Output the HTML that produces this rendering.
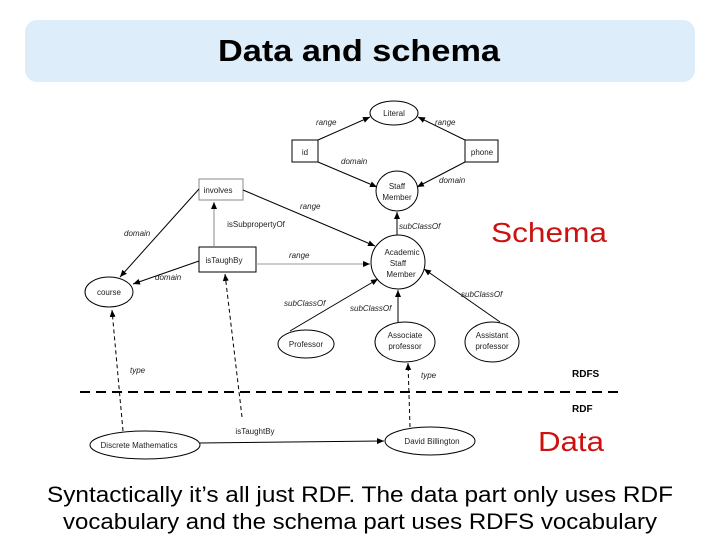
<!DOCTYPE html>
<html><head><meta charset="utf-8"><style>
body{margin:0;width:720px;height:540px;background:#fff;overflow:hidden;font-family:"Liberation Sans",sans-serif}
</style></head><body>
<svg width="720" height="540" viewBox="0 0 720 540" xmlns="http://www.w3.org/2000/svg" font-family="Liberation Sans, sans-serif">
<defs>
<marker id="a" markerWidth="8" markerHeight="8" refX="7" refY="4" orient="auto" markerUnits="userSpaceOnUse"><path d="M0,1 L7,4 L0,7z" fill="#000"/></marker>
</defs>
<rect x="25" y="20" width="670" height="62" rx="12" fill="#ddeefa"/>
<text x="218" y="61" font-size="31" font-weight="bold" textLength="282" lengthAdjust="spacingAndGlyphs">Data and schema</text>
<g stroke="#000" stroke-width="1" fill="none">
<ellipse cx="394" cy="113" rx="24" ry="12"/>
<rect x="292" y="140" width="26" height="22"/>
<rect x="465" y="140" width="33" height="22"/>
<ellipse cx="397" cy="191" rx="21" ry="20"/>
<rect x="199" y="179" width="44" height="21" stroke="#888"/>
<rect x="199" y="247" width="57" height="25"/>
<ellipse cx="398" cy="262" rx="27" ry="27"/>
<ellipse cx="109" cy="292" rx="24" ry="15"/>
<ellipse cx="306" cy="344" rx="28" ry="14"/>
<ellipse cx="405" cy="342" rx="30" ry="20"/>
<ellipse cx="492" cy="342" rx="27" ry="20"/>
<ellipse cx="145" cy="445" rx="55" ry="14"/>
<ellipse cx="430" cy="441" rx="45" ry="14"/>
<line x1="318" y1="140" x2="370" y2="117" marker-end="url(#a)"/>
<line x1="465" y1="140" x2="418" y2="117" marker-end="url(#a)"/>
<line x1="318" y1="162" x2="377" y2="187" marker-end="url(#a)"/>
<line x1="465" y1="162" x2="417" y2="187" marker-end="url(#a)"/>
<line x1="397" y1="235" x2="397" y2="212" marker-end="url(#a)"/>
<line x1="243" y1="190" x2="375" y2="246" marker-end="url(#a)"/>
<line x1="256" y1="264" x2="370" y2="264" stroke="#999" marker-end="url(#a)"/>
<line x1="214" y1="247" x2="214" y2="202" stroke="#888" marker-end="url(#a)"/>
<line x1="199" y1="189" x2="120" y2="277" marker-end="url(#a)"/>
<line x1="199" y1="261" x2="133" y2="284" marker-end="url(#a)"/>
<line x1="290" y1="331" x2="378" y2="279" marker-end="url(#a)"/>
<line x1="398" y1="322" x2="398" y2="290" marker-end="url(#a)"/>
<line x1="500" y1="322" x2="424" y2="269" marker-end="url(#a)"/>
<line x1="123" y1="431" x2="112" y2="310" stroke-dasharray="4,3" marker-end="url(#a)"/>
<line x1="242" y1="417" x2="225" y2="274" stroke-dasharray="4,3" marker-end="url(#a)"/>
<line x1="200" y1="443" x2="384" y2="441" marker-end="url(#a)"/>
<line x1="410" y1="427" x2="408" y2="363" stroke-dasharray="4,3" marker-end="url(#a)"/>
<line x1="80" y1="392" x2="622" y2="392" stroke-width="2" stroke-dasharray="10,6"/>
</g>
<g font-size="8" font-style="italic" fill="#222">
<text x="316" y="125">range</text><text x="435" y="125">range</text>
<text x="341" y="164">domain</text><text x="439" y="183">domain</text>
<text x="300" y="209">range</text><text x="399" y="229">subClassOf</text>
<text x="124" y="236">domain</text><text x="289" y="258">range</text>
<text x="155" y="280">domain</text>
<text x="284" y="306">subClassOf</text><text x="350" y="311">subClassOf</text>
<text x="461" y="297">subClassOf</text>
<text x="130" y="373">type</text><text x="421" y="378">type</text>
</g>
<g font-size="8" fill="#222" text-anchor="middle">
<text x="394" y="116">Literal</text><text x="305" y="155">id</text><text x="482" y="155">phone</text>
<text x="397" y="189">Staff</text><text x="397" y="200">Member</text>
<text x="218" y="193">involves</text>
<text x="256" y="227">isSubpropertyOf</text>
<text x="224" y="263">isTaughBy</text>
<text x="402" y="255">Academic</text><text x="398" y="266">Staff</text><text x="401" y="277">Member</text>
<text x="109" y="295">course</text><text x="306" y="347">Professor</text>
<text x="405" y="338">Associate</text><text x="405" y="349">professor</text>
<text x="492" y="338">Assistant</text><text x="492" y="349">professor</text>
<text x="139" y="448">Discrete Mathematics</text><text x="432" y="444">David Billington</text>
<text x="255" y="434">isTaughtBy</text>
</g>
<text x="572" y="377" font-size="10" font-weight="bold">RDFS</text>
<text x="572" y="412" font-size="10" font-weight="bold">RDF</text>
<text x="491" y="242" font-size="28" fill="#cc1111" textLength="116" lengthAdjust="spacingAndGlyphs">Schema</text>
<text x="538" y="451" font-size="28" fill="#cc1111" textLength="66" lengthAdjust="spacingAndGlyphs">Data</text>
<text x="47" y="502" font-size="22" textLength="626" lengthAdjust="spacingAndGlyphs">Syntactically it’s all just RDF.  The data part only uses RDF</text>
<text x="63" y="529" font-size="22" textLength="594" lengthAdjust="spacingAndGlyphs">vocabulary and the schema part uses RDFS vocabulary</text>
</svg>
</body></html>
